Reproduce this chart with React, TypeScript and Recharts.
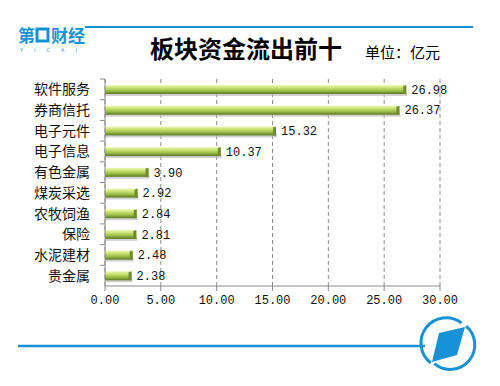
import React from 'react';
import { BarChart, Bar, XAxis, YAxis, CartesianGrid, LabelList } from 'recharts';

const categories = ['软件服务', '券商信托', '电子元件', '电子信息', '有色金属', '煤炭采选', '农牧饲渔', '保险', '水泥建材', '贵金属'];
const outflow = [26.98, 26.37, 15.32, 10.37, 3.9, 2.92, 2.84, 2.81, 2.48, 2.38];
const xTicks = [0, 5, 10, 15, 20, 25, 30];

const data = categories.map((name, i) => ({ name, value: outflow[i] }));

const BLUE = '#1593d6';
const AXIS = '#8a8a8a';
const MONO = '"Liberation Mono", "DejaVu Sans Mono", monospace';
const CJK = '"Noto Sans CJK SC", "Noto Sans", sans-serif';

// cylinder-ish green bar with a bevelled end
const BarShape = (props: any) => {
    const { x, y, width, height } = props;
    if (!width || width <= 0) return null;
    const cap = 3;
    return (
        <g>
            <rect x={x + 1} y={y + height - 1} width={width} height={3} fill="#bdbdbd" opacity={0.7} />
            <rect x={x} y={y} width={width} height={height} fill="url(#barGrad)" />
            <polygon
                points={`${x + width - cap},${y + 1} ${x + width},${y} ${x + width},${y + height} ${x + width - cap},${y + height}`}
                fill="#6f8b2c"
            />
        </g>
    );
};

const CategoryTick = (props: any) => {
    const { x, y, payload } = props;
    const half = payload && payload.offset ? payload.offset : 10.35;
    return (
        <g>
            <line x1={x + 10} x2={x + 15} y1={y - half} y2={y - half} stroke={AXIS} />
            <text x={x} y={y} dy={5} textAnchor="end" fontSize={14} fill="#111" fontFamily={CJK}>
                {payload.value}
            </text>
        </g>
    );
};

export default function App() {
    return (
        <div style={{ position: 'absolute', left: 0, top: 0, width: 500, height: 386, background: '#fff' }}>
            <BarChart
                width={500}
                height={386}
                data={data}
                layout="vertical"
                barSize={9}
                margin={{ top: 79, right: 60, left: 0, bottom: 70 }}
            >
                <defs>
                    <linearGradient id="barGrad" x1="0" y1="0" x2="0" y2="1">
                        <stop offset="0%" stopColor="#eef9b4" />
                        <stop offset="30%" stopColor="#cbe474" />
                        <stop offset="65%" stopColor="#9cbc48" />
                        <stop offset="100%" stopColor="#5c7722" />
                    </linearGradient>
                </defs>
                <CartesianGrid stroke={AXIS} strokeDasharray="4 3" horizontal={false} />
                <XAxis
                    type="number"
                    domain={[0, 30]}
                    ticks={xTicks}
                    tickFormatter={(v: number) => v.toFixed(2)}
                    tick={{ fontSize: 12, fill: '#111', fontFamily: MONO }}
                    stroke={AXIS}
                    tickSize={5}
                    tickMargin={4}
                    height={30}
                    interval={0}
                />
                <YAxis
                    type="category"
                    dataKey="name"
                    width={105}
                    stroke={AXIS}
                    tickLine={false}
                    tickSize={5}
                    tickMargin={10}
                    tick={<CategoryTick />}
                    interval={0}
                />
                <Bar dataKey="value" shape={<BarShape />} isAnimationActive={false}>
                    <LabelList
                        dataKey="value"
                        position="right"
                        offset={5}
                        formatter={(v: number) => v.toFixed(2)}
                        style={{ fontSize: 12, fill: '#111', fontFamily: MONO }}
                    />
                </Bar>
            </BarChart>

            {/* header & footer decoration */}
            <svg width={500} height={386} style={{ position: 'absolute', left: 0, top: 0, pointerEvents: 'none' }}>
                <line x1={85} x2={473} y1={27} y2={27} stroke={BLUE} strokeWidth={2} />
                <text x={18} y={42} fontSize={17} fontWeight="bold" fill={BLUE} fontFamily={CJK}>第</text>
                <rect x={37} y={29} width={11} height={12} fill="none" stroke={BLUE} strokeWidth={3} />
                <text x={51} y={42} fontSize={17} fontWeight="bold" fill={BLUE} fontFamily={CJK}>财经</text>
                <text x={20} y={52} fontSize={5} fill={BLUE} fontFamily="DejaVu Sans" letterSpacing={11}>YICAI</text>
                <text x={246} y={58} fontSize={24} fontWeight="bold" fill="#000" textAnchor="middle" fontFamily={CJK}>板块资金流出前十</text>
                <text x={365} y={58} fontSize={15} fill="#000" fontFamily={CJK}>单位：亿元</text>

                <line x1={18} x2={425} y1={346} y2={346} stroke={BLUE} strokeWidth={2.5} />
                <path d="M 466.1 326.2 A 24.5 24.5 0 0 1 434.4 363.6" fill="none" stroke={BLUE} strokeWidth={3} />
                <path d="M 430.8 363.0 A 24.5 24.5 0 0 1 461.5 323.0" fill="none" stroke={BLUE} strokeWidth={3} />
                <polygon points="439,333 465,327 457,355 432,362" fill={BLUE} />
            </svg>
        </div>
    );
}
